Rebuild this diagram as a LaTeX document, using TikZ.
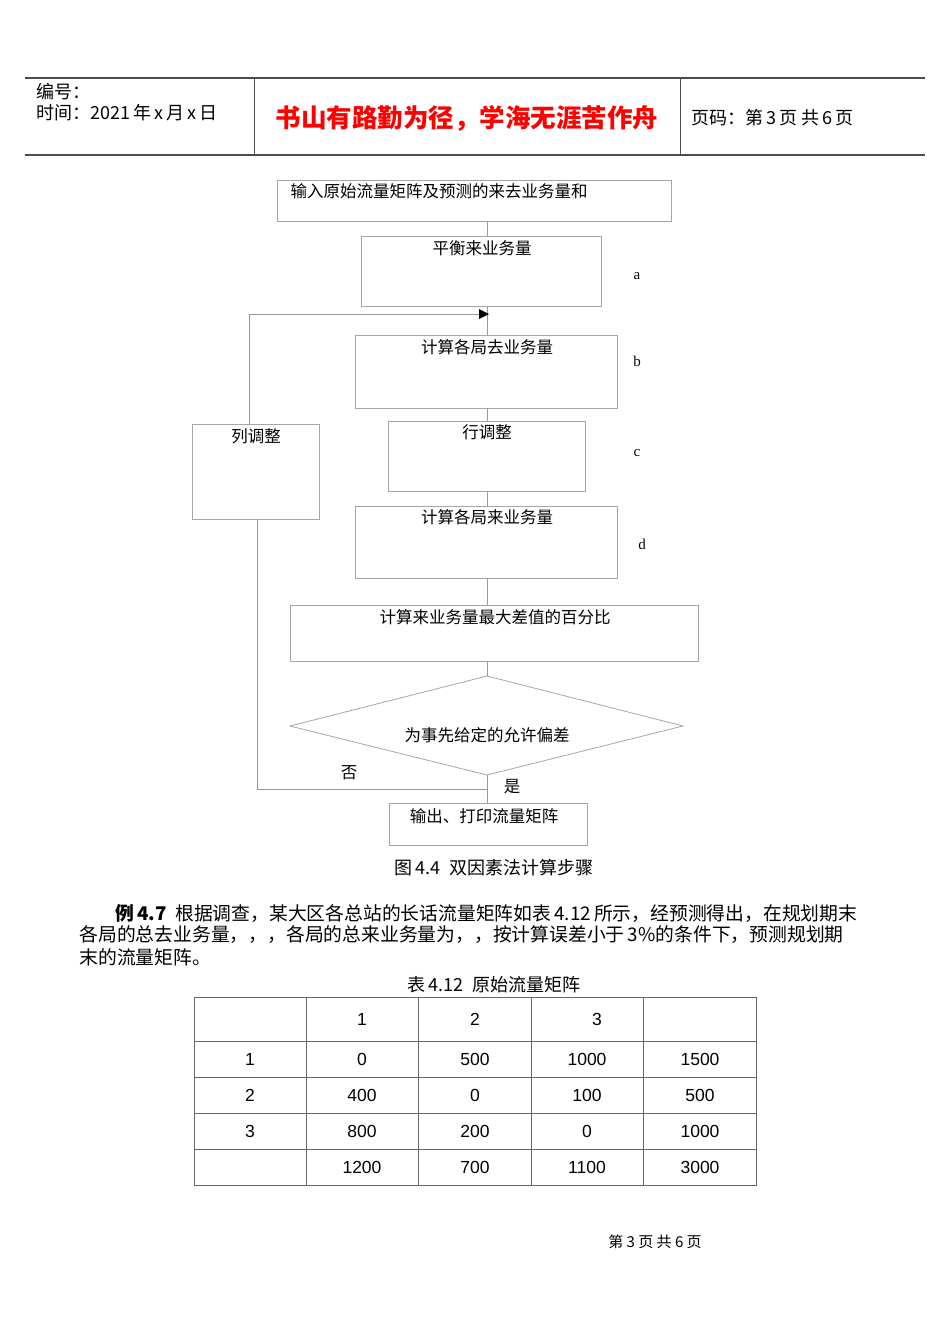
\documentclass[tikz,border=0pt]{standalone}
\usepackage{fontspec}
\setmainfont{Noto Sans CJK SC}
\newfontfamily\lat{Liberation Sans}
\newfontfamily\ser{Liberation Serif}
\begin{document}
\begin{tikzpicture}[x=1pt,y=-1pt,
  bx/.style={draw=black!35,line width=0.8pt},
  ln/.style={draw=black!40,line width=0.8pt},
  ft/.style={font=\fontsize{16.5}{18}\selectfont},
  tb/.style={font=\lat\fontsize{17.5}{19}\selectfont}]
\useasboundingbox (0,0) rectangle (950,1342);
% header
\draw[black!70,line width=1.2pt] (25,78) -- (925,78) (25,155) -- (925,155);
\draw[black!70,line width=0.8pt] (254,78) -- (254,155) (680,78) -- (680,155);
\node[anchor=west,font=\fontsize{18}{19}\selectfont] (h1) at (33,92) {编号：};
\node[anchor=west,font=\fontsize{18}{19}\selectfont] (h2) at (33,113) {时间：2021\,年\,x\,月\,x\,日};
\node[font=\bfseries\fontsize{25.5}{27}\selectfont,text=red] (ht) at (467,118) {书山有路勤为径，学海无涯苦作舟};
\node[anchor=west,font=\fontsize{18}{19}\selectfont] (hp) at (688,118) {页码：第\,3\,页\ 共\,6\,页};
% boxes
\draw[bx] (277,180) rectangle (671,221);
\node[ft,anchor=west] (t1) at (287,191) {输入原始流量矩阵及预测的来去业务量和};
\draw[bx] (361,236) rectangle (601,306);
\node[ft] (t2) at (482,248) {平衡来业务量};
\draw[bx] (355,335) rectangle (617,408);
\node[ft] (t3) at (487,347) {计算各局去业务量};
\draw[bx] (388,421) rectangle (585,491);
\node[ft] (t4) at (487,432) {行调整};
\draw[bx] (192,424) rectangle (319,519);
\node[ft] (t5) at (256,436) {列调整};
\draw[bx] (355,506) rectangle (617,578);
\node[ft] (t6) at (487,517) {计算各局来业务量};
\draw[bx] (290,605) rectangle (698,661);
\node[ft] (t7) at (495,617) {计算来业务量最大差值的百分比};
\draw[bx] (487,676) -- (683,726) -- (487,775) -- (290,726) -- cycle;
\node[ft] (t8) at (487,735) {为事先给定的允许偏差};
\draw[bx] (389,803) rectangle (587,845);
\node[ft] (t9) at (484,816) {输出、打印流量矩阵};
% connectors
\draw[ln] (487,221) -- (487,236) (487,306) -- (487,335) (487,408) -- (487,421)
  (487,491) -- (487,506) (487,578) -- (487,605) (487,661) -- (487,676) (487,775) -- (487,803);
\draw[ln] (249,424) -- (249,314) -- (480,314);
\fill (479,309) -- (489,314) -- (479,319) -- cycle;
\draw[ln] (257,519) -- (257,789) -- (487,789);
\node[ft] (no) at (349,773) {否};
\node[ft] (yes) at (512,787) {是};
\node[font=\ser\fontsize{15}{17}\selectfont] (la) at (637,276) {a};
\node[font=\ser\fontsize{15}{17}\selectfont] (lb) at (637,361) {b};
\node[font=\ser\fontsize{15}{17}\selectfont] (lc) at (637,453) {c};
\node[font=\ser\fontsize{15}{17}\selectfont] (ld) at (642,544) {d};
% caption & paragraph
\node[font=\fontsize{18}{19}\selectfont] (cap) at (494,868) {图\,4.4\ \ 双因素法计算步骤};
\node[anchor=west,font=\fontsize{18.8}{19}\selectfont] (p1) at (112,913) {\textbf{例\,4.7}\ \ 根据调查，某大区各总站的长话流量矩阵如表\,4.12\,所示，经预测得出，在规划期末};
\node[anchor=west,font=\fontsize{18.8}{19}\selectfont] (p2) at (76,935) {各局的总去业务量，，，各局的总来业务量为，，按计算误差小于\,3\%的条件下，预测规划期};
\node[anchor=west,font=\fontsize{18.8}{19}\selectfont] (p3) at (76,957) {末的流量矩阵。};
\node[font=\fontsize{18}{19}\selectfont] (tcap) at (494,985) {表\,4.12\ \ 原始流量矩阵};
% table
\draw[black!60,line width=0.7pt] (194,997) rectangle (756,1185);
\foreach \x in {306,418,531,643} \draw[black!60,line width=0.7pt] (\x,997) -- (\x,1185);
\foreach \y in {1041,1077,1113,1149} \draw[black!60,line width=0.7pt] (194,\y) -- (756,\y);
\node[tb] at (362,1019) {1}; \node[tb] at (475,1019) {2}; \node[tb] at (597,1019) {3};
\node[tb] at (250,1059) {1}; \node[tb] at (362,1059) {0}; \node[tb] at (475,1059) {500}; \node[tb] at (587,1059) {1000}; \node[tb] at (700,1059) {1500};
\node[tb] at (250,1095) {2}; \node[tb] at (362,1095) {400}; \node[tb] at (475,1095) {0}; \node[tb] at (587,1095) {100}; \node[tb] at (700,1095) {500};
\node[tb] at (250,1131) {3}; \node[tb] at (362,1131) {800}; \node[tb] at (475,1131) {200}; \node[tb] at (587,1131) {0}; \node[tb] at (700,1131) {1000};
\node[tb] at (362,1167) {1200}; \node[tb] at (475,1167) {700}; \node[tb] at (587,1167) {1100}; \node[tb] at (700,1167) {3000};
\node[font=\fontsize{15}{16}\selectfont] (foot) at (655,1242) {第\ 3\ 页\ 共\ 6\ 页};
\end{tikzpicture}
\end{document}
